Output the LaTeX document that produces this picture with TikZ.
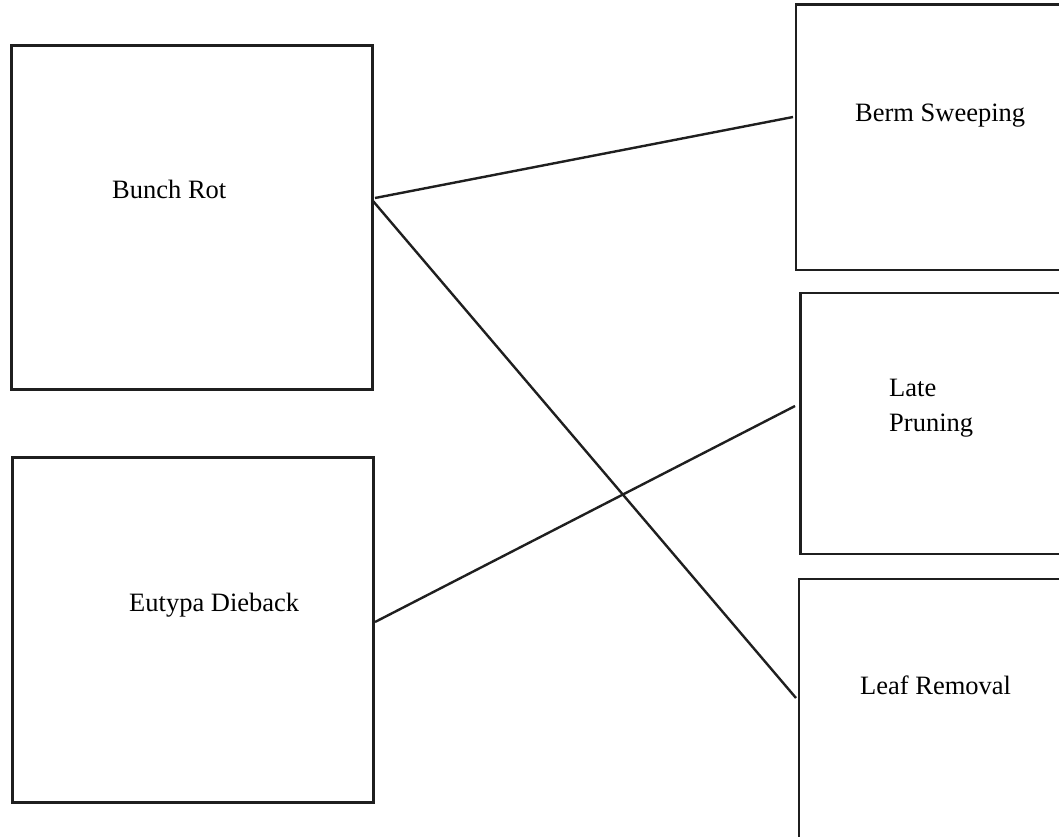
\documentclass[tikz,border=0pt]{standalone}
\usepackage{fontspec}
\setmainfont{Liberation Serif}
\begin{document}
\begin{tikzpicture}[x=1pt,y=-1pt,
  box/.style={draw=black!88, line width=2.6pt, rectangle, inner sep=0pt, outer sep=0pt, anchor=north west},
  lbl/.style={font=\fontsize{26.5}{31}\selectfont, inner sep=0pt, anchor=base west},
  link/.style={draw=black!88, line width=2.4pt}]
\useasboundingbox (0,0) rectangle (1059,836);
\clip (0,0) rectangle (1059,836);

% boxes
\node[box, minimum width=361pt, minimum height=344pt] (br) at (11.5,45.5) {};
\node[box, minimum width=361pt, minimum height=345pt] (ed) at (12.5,457.5) {};
\node[box, minimum width=290pt, minimum height=265.5pt] (bs) at (796,4.5) {};
\node[box, minimum width=290pt, minimum height=261pt] (lp) at (800.5,293) {};
\node[box, minimum width=290pt, minimum height=290pt] (lr) at (799,579) {};

% labels
\node[lbl] (tbr) at (112,198) {Bunch Rot};
\node[lbl] (ted) at (129,611) {Eutypa Dieback};
\node[lbl] (tbs) at (855,121) {Berm Sweeping};
\node[lbl] (tlp1) at (889,396) {Late};
\node[lbl] (tlp2) at (889,431) {Pruning};
\node[lbl] (tlr) at (860,694) {Leaf Removal};

% connector end points on the box edges
\coordinate (brA) at (375,198);
\coordinate (brB) at (373,201);
\coordinate (edA) at (375,622);
\coordinate (bsA) at (793,117);
\coordinate (lpA) at (795,406);
\coordinate (lrA) at (796,698);

% connectors
\draw[link] (brA) -- (bsA);
\draw[link] (brB) -- (lrA);
\draw[link] (edA) -- (lpA);
\end{tikzpicture}
\end{document}
